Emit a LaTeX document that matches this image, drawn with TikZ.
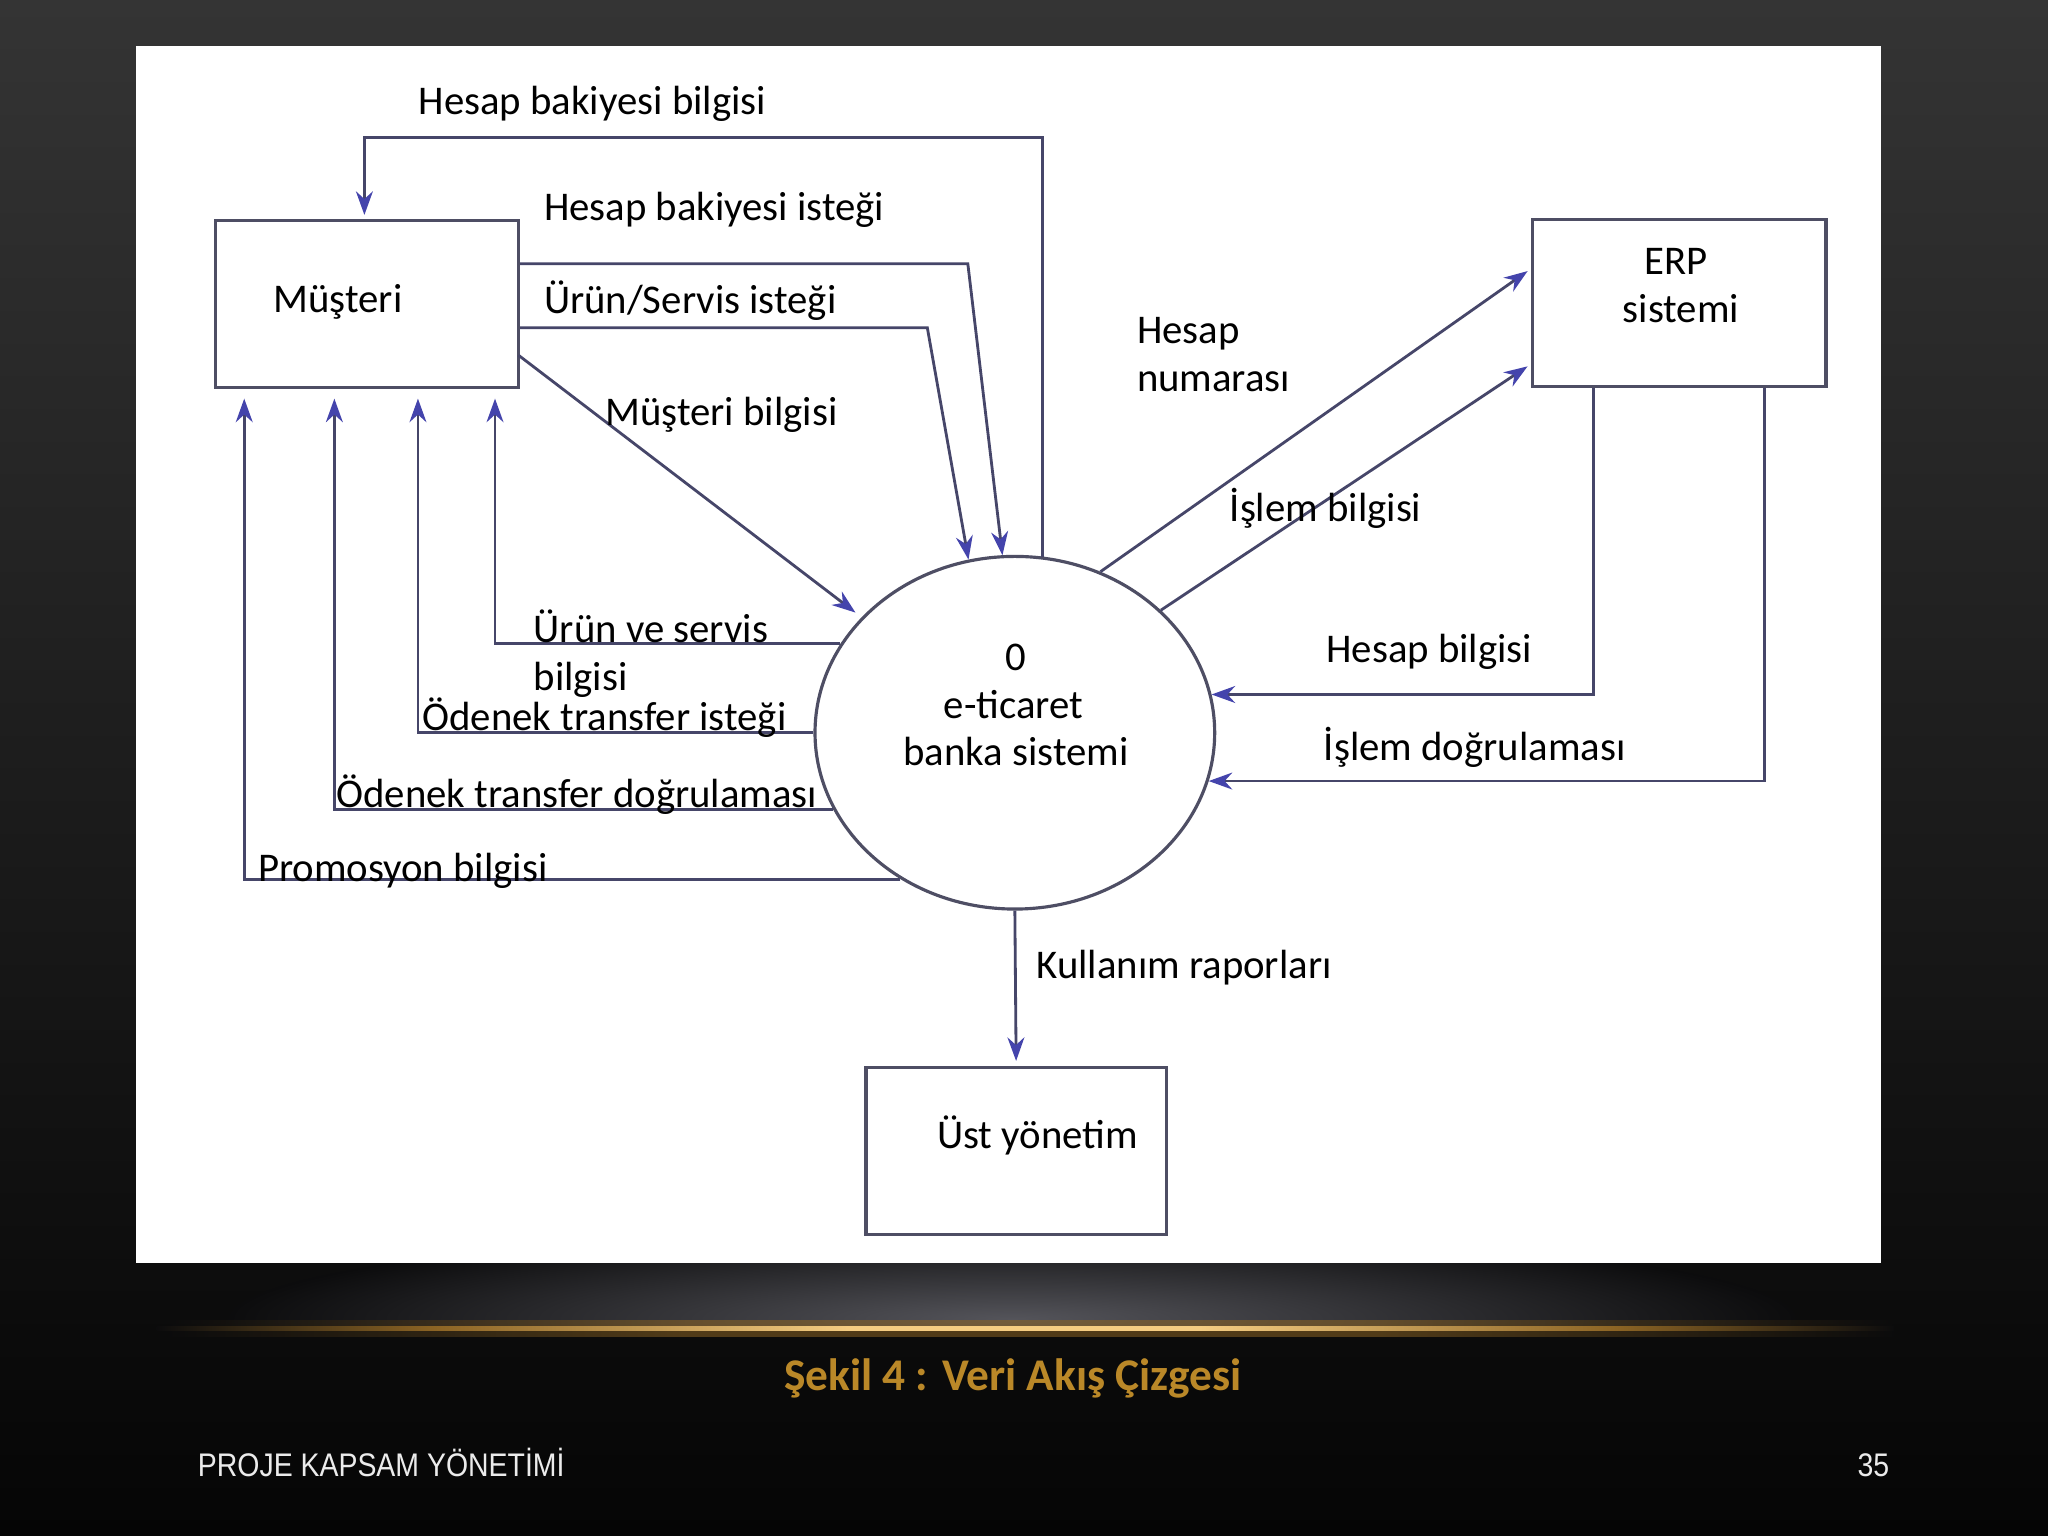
\documentclass[tikz,border=0pt]{standalone}
\usepackage{fontspec}
\setmainfont{Carlito}
\newfontfamily\footfont{Liberation Sans}
\usetikzlibrary{shapes.geometric,arrows.meta}
\newlength\pxu
\setlength\pxu{0.013061cm}
\definecolor{lncol}{RGB}{70,70,105}
\definecolor{arcol}{RGB}{68,68,172}
\definecolor{boxcol}{RGB}{78,78,100}
\definecolor{capgold}{RGB}{186,136,40}
\definecolor{bgtop}{RGB}{52,52,52}
\definecolor{bgmid}{RGB}{24,24,24}
\definecolor{bgbot}{RGB}{5,5,5}
\definecolor{bgglow}{RGB}{12,12,13}
\definecolor{glowgray}{RGB}{84,84,90}
\definecolor{golddim}{RGB}{140,100,36}
\definecolor{goldbright}{RGB}{245,205,130}
\definecolor{foottext}{RGB}{235,235,235}
\pgfdeclarehorizontalshading{goldcore}{100bp}{color(0bp)=(bgglow); color(25bp)=(bgglow); color(33bp)=(golddim); color(45bp)=(goldbright); color(55bp)=(goldbright); color(67bp)=(golddim); color(75bp)=(bgglow); color(100bp)=(bgglow)}
\pgfdeclarehorizontalshading{goldhalo}{100bp}{color(0bp)=(bgglow); color(25bp)=(bgglow); color(40bp)=(golddim); color(60bp)=(golddim); color(75bp)=(bgglow); color(100bp)=(bgglow)}
\begin{document}
\begin{tikzpicture}[x=0.013061cm,y=-0.013061cm,
  flow/.style={draw=lncol, line width=0.8pt,
    -{Stealth[length=6.7pt,width=4.8pt,color=arcol]}},
  upflow/.style={flow, shorten >=2.6pt},
  boxst/.style={draw=boxcol, line width=0.9pt, fill=white, inner sep=0pt, minimum height=128\pxu},
  lbl/.style={font=\fontsize{11.6}{13}\selectfont, inner sep=0pt, anchor=west, text height=0.65em, text depth=0.2em, yshift=-1.85pt},
  ctr/.style={lbl, anchor=center}]
\useasboundingbox (0,0) rectangle (1568,1176);
% background
\shade[top color=bgtop, middle color=bgmid, bottom color=bgbot] (0,0) rectangle (1568,1176);
\begin{scope}
  \clip (104,967) rectangle (1440,1017);
  \shade[inner color=glowgray, outer color=bgglow] (775,1010) ellipse [x radius=600, y radius=70];
\end{scope}
\shade[shading=goldhalo, opacity=0.55] (130,1011) rectangle (1450,1023);
\shade[shading=goldcore] (120,1015.5) rectangle (1450,1019);
% white panel
\fill[white] (104,35) rectangle (1440,967);
% boxes
\node[boxst, minimum width=232\pxu] (mus) at (281,233) {};
\node[boxst, minimum width=225\pxu] (erp) at (1285.5,232) {};
\node[boxst, minimum width=230\pxu] (ust) at (778,881) {};
\node[draw=boxcol, line width=0.9pt, fill=white, ellipse, inner sep=0pt,
  minimum width=306\pxu, minimum height=270\pxu] (circ) at (777,561) {};
% bend points
\coordinate (k1) at (798,105);
\coordinate (k2) at (741,202);
\coordinate (k3) at (710,251);
\coordinate (k4) at (397,272);
\coordinate (k5) at (379,300);
\coordinate (k6) at (320,300);
\coordinate (k7) at (256,300);
\coordinate (k8) at (187,300);
\coordinate (k9) at (1170,206);
\coordinate (k10) at (1170,279);
\coordinate (k11) at (1220,300);
\coordinate (k12) at (1351,300);
\coordinate (k13) at (279,105);
% connectors
\draw[flow, shorten >=1.2pt] (circ.81) -- (circ.81 |- k1) -- (k13) -- (mus.north -| k13);
\draw[flow] (mus.east |- k2) -- (k2) -- (circ.94);
\draw[flow] (mus.east |- k3) -- (k3) -- (circ.105);
\draw[flow, shorten >=2.2pt] (k4) -- (circ.143);
\draw[upflow] (circ.153.7) -| (mus.south -| k5);
\draw[upflow] (circ.west) -| (mus.south -| k6);
\draw[upflow] (circ.203.6) -| (mus.south -| k7);
\draw[upflow] (circ.232.7) -| (mus.south -| k8);
\draw[flow, shorten >=1pt] (circ.62) -- (erp.west |- k9);
\draw[flow, shorten >=1pt] (circ.40.6) -- (erp.west |- k10);
\draw[flow] (erp.south -| k11) |- (circ.11.8);
\draw[flow] (erp.south -| k12) |- (circ.346.7);
\draw[flow, shorten >=1.3pt] (circ.south) -- (ust.north);
% node texts
\node[lbl] (tmus) at (209,228) {Müşteri};
\node[ctr] (terp1) at (1283,199) {ERP};
\node[ctr] (terp2) at (1287,236) {sistemi};
\node[ctr] (tc1) at (778,502) {0};
\node[ctr] (tc2) at (776,539) {e-ticaret};
\node[ctr] (tc3) at (778,575) {banka sistemi};
\node[lbl] (tust) at (717,868) {Üst yönetim};
% flow labels
\node[lbl] (l1) at (320,77) {Hesap bakiyesi bilgisi};
\node[lbl] (l2) at (416,158) {Hesap bakiyesi isteği};
\node[lbl] (l3) at (416,229) {Ürün/Servis isteği};
\node[lbl] (l4) at (463,315) {Müşteri bilgisi};
\node[lbl] (l5) at (408,481) {Ürün ve servis};
\node[lbl] (l5b) at (408,518) {bilgisi};
\node[lbl] (l6) at (323,548) {Ödenek transfer isteği};
\node[lbl] (l7) at (257,607) {Ödenek transfer doğrulaması};
\node[lbl] (l8) at (197,664) {Promosyon bilgisi};
\node[lbl] (l9) at (870,252) {Hesap};
\node[lbl] (l9b) at (870,289) {numarası};
\node[lbl] (l10) at (941,388) {İşlem bilgisi};
\node[lbl] (l11) at (1015,496) {Hesap bilgisi};
\node[lbl] (l12) at (1013,571) {İşlem doğrulaması};
\node[lbl] (l13) at (793,738) {Kullanım raporları};
% caption and footer
\node[font=\bfseries\fontsize{12.9}{15}\selectfont, text=capgold, inner sep=0pt] (cap) at (775.5,1055) {Şekil 4 : Veri Akış Çizgesi};
\node[font=\footfont\fontsize{9.3}{11}\selectfont, text=foottext, inner sep=0pt, anchor=west] (foot) at (151,1120) {\scalebox{0.87}[1]{PROJE KAPSAM YÖNETİMİ}};
\node[font=\footfont\fontsize{9.3}{11}\selectfont, text=foottext, inner sep=0pt, anchor=east] (pnum) at (1447,1122) {\scalebox{0.87}[1]{35}};
\end{tikzpicture}
\end{document}
